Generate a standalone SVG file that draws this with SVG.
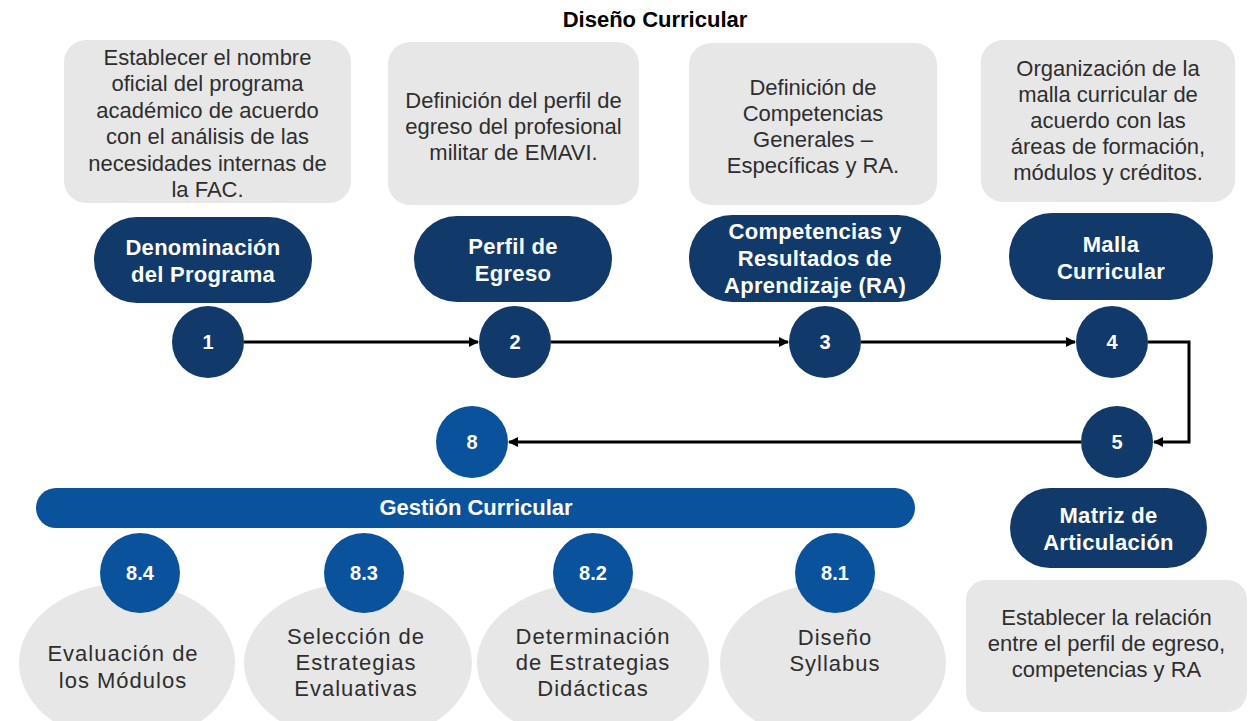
<svg xmlns="http://www.w3.org/2000/svg" width="1251" height="721" viewBox="0 0 1251 721">
<style>
.box{fill:#E7E7E7}
.bt{font-family:"Liberation Sans",Arial,sans-serif;font-size:22px;fill:#2E2E2E;text-anchor:middle}
.pill{fill:#113A6B}
.pt{font-family:"Liberation Sans",Arial,sans-serif;font-size:22px;font-weight:bold;fill:#FFFFFF;text-anchor:middle;letter-spacing:0.3px}
.dk{fill:#113A6B}
.lt{fill:#0A539C}
.nt{font-family:"Liberation Sans",Arial,sans-serif;font-size:20px;font-weight:bold;fill:#FFFFFF;text-anchor:middle}
.gt{font-family:"Liberation Sans",Arial,sans-serif;font-size:22px;fill:#2E2E2E;text-anchor:middle;letter-spacing:1px}
.conn{fill:none;stroke:#000;stroke-width:3}
</style>
<defs>
<marker id="ah" markerWidth="10" markerHeight="10" refX="9" refY="5" orient="auto" markerUnits="userSpaceOnUse">
<path d="M0,0 L10,5 L0,10 Z" fill="#000"/>
</marker>
</defs>
<rect width="1251" height="721" fill="#FFFFFF"/>
<text x="655" y="27" font-family="Liberation Sans, Arial, sans-serif" font-size="22" font-weight="bold" fill="#000" text-anchor="middle">Diseño Curricular</text>

<g id="connectors">
<line class="conn" x1="244" y1="342" x2="478" y2="342" marker-end="url(#ah)"/>
<line class="conn" x1="551" y1="342" x2="788" y2="342" marker-end="url(#ah)"/>
<line class="conn" x1="861" y1="342" x2="1075" y2="342" marker-end="url(#ah)"/>
<path class="conn" d="M1148,342 H1189 V442 H1154" marker-end="url(#ah)"/>
<line class="conn" x1="1081" y1="442" x2="509" y2="442" marker-end="url(#ah)"/>
</g>

<g id="desc1"><rect class="box" x="64" y="40" width="287" height="163" rx="22"/>
<text class="bt"><tspan x="207.5" y="65">Establecer el nombre</tspan><tspan x="207.5" y="91.4">oficial del programa</tspan><tspan x="207.5" y="117.8">académico de acuerdo</tspan><tspan x="207.5" y="144.2">con el análisis de las</tspan><tspan x="207.5" y="170.6">necesidades internas de</tspan><tspan x="207.5" y="197">la FAC.</tspan></text></g>
<g id="desc2"><rect class="box" x="388" y="42" width="251" height="163" rx="22"/>
<text class="bt"><tspan x="513.5" y="108">Definición del perfil de</tspan><tspan x="513.5" y="134">egreso del profesional</tspan><tspan x="513.5" y="160">militar de EMAVI.</tspan></text></g>
<g id="desc3"><rect class="box" x="689" y="43" width="248" height="162" rx="22"/>
<text class="bt"><tspan x="813" y="95">Definición de</tspan><tspan x="813" y="121">Competencias</tspan><tspan x="813" y="147">Generales –</tspan><tspan x="813" y="173">Específicas y RA.</tspan></text></g>
<g id="desc4"><rect class="box" x="981" y="40" width="254" height="162" rx="22"/>
<text class="bt"><tspan x="1108" y="76">Organización de la</tspan><tspan x="1108" y="102">malla curricular de</tspan><tspan x="1108" y="128">acuerdo con las</tspan><tspan x="1108" y="154">áreas de formación,</tspan><tspan x="1108" y="180">módulos y créditos.</tspan></text></g>

<g id="pill1"><rect class="pill" x="94" y="217" width="218" height="86" rx="43"/>
<text class="pt"><tspan x="203" y="255">Denominación</tspan><tspan x="203" y="282">del Programa</tspan></text></g>
<g id="pill2"><rect class="pill" x="414" y="216" width="198" height="86" rx="43"/>
<text class="pt"><tspan x="513" y="254">Perfil de</tspan><tspan x="513" y="281">Egreso</tspan></text></g>
<g id="pill3"><rect class="pill" x="689" y="215" width="252" height="87" rx="43"/>
<text class="pt"><tspan x="815" y="239">Competencias y</tspan><tspan x="815" y="266">Resultados de</tspan><tspan x="815" y="293">Aprendizaje (RA)</tspan></text></g>
<g id="pill4"><rect class="pill" x="1009" y="213" width="204" height="87" rx="43"/>
<text class="pt"><tspan x="1111" y="252">Malla</tspan><tspan x="1111" y="279">Curricular</tspan></text></g>

<g id="n1"><circle class="dk" cx="208" cy="342" r="36"/><text class="nt" x="208" y="349">1</text></g>
<g id="n2"><circle class="dk" cx="515" cy="342" r="36"/><text class="nt" x="515" y="349">2</text></g>
<g id="n3"><circle class="dk" cx="825" cy="342" r="36"/><text class="nt" x="825" y="349">3</text></g>
<g id="n4"><circle class="dk" cx="1112" cy="342" r="36"/><text class="nt" x="1112" y="349">4</text></g>
<g id="n5"><circle class="dk" cx="1117" cy="442" r="36"/><text class="nt" x="1117" y="449">5</text></g>
<g id="n8"><circle class="lt" cx="472" cy="442" r="36"/><text class="nt" x="472" y="449">8</text></g>

<g id="gestion"><rect class="lt" x="36" y="488" width="879" height="40" rx="20"/>
<text x="476" y="515" font-family="Liberation Sans, Arial, sans-serif" font-size="22" font-weight="bold" fill="#FFFFFF" text-anchor="middle">Gestión Curricular</text></g>

<g id="pill5"><rect class="pill" x="1010" y="488" width="197" height="80" rx="40"/>
<text class="pt"><tspan x="1108.5" y="523">Matriz de</tspan><tspan x="1108.5" y="550">Articulación</tspan></text></g>
<g id="desc5"><rect class="box" x="966" y="580" width="281" height="132" rx="20"/>
<text class="bt"><tspan x="1106.5" y="625">Establecer la relación</tspan><tspan x="1106.5" y="651">entre el perfil de egreso,</tspan><tspan x="1106.5" y="677">competencias y RA</tspan></text></g>

<g id="s84"><ellipse class="box" cx="127" cy="663" rx="108" ry="80"/><circle class="lt" cx="140" cy="573" r="40"/>
<text class="nt" x="140" y="580">8.4</text>
<text class="gt"><tspan x="123" y="661">Evaluación de</tspan><tspan x="123" y="688">los Módulos</tspan></text></g>
<g id="s83"><ellipse class="box" cx="358" cy="663" rx="114" ry="80"/><circle class="lt" cx="364" cy="573" r="40"/>
<text class="nt" x="364" y="580">8.3</text>
<text class="gt"><tspan x="356" y="644">Selección de</tspan><tspan x="356" y="670">Estrategias</tspan><tspan x="356" y="696">Evaluativas</tspan></text></g>
<g id="s82"><ellipse class="box" cx="593" cy="663" rx="116" ry="80"/><circle class="lt" cx="593" cy="573" r="40"/>
<text class="nt" x="593" y="580">8.2</text>
<text class="gt"><tspan x="593" y="644">Determinación</tspan><tspan x="593" y="670">de Estrategias</tspan><tspan x="593" y="696">Didácticas</tspan></text></g>
<g id="s81"><ellipse class="box" cx="833" cy="663" rx="113" ry="80"/><circle class="lt" cx="835" cy="573" r="40"/>
<text class="nt" x="835" y="580">8.1</text>
<text class="gt"><tspan x="835" y="645">Diseño</tspan><tspan x="835" y="671">Syllabus</tspan></text></g>
</svg>
